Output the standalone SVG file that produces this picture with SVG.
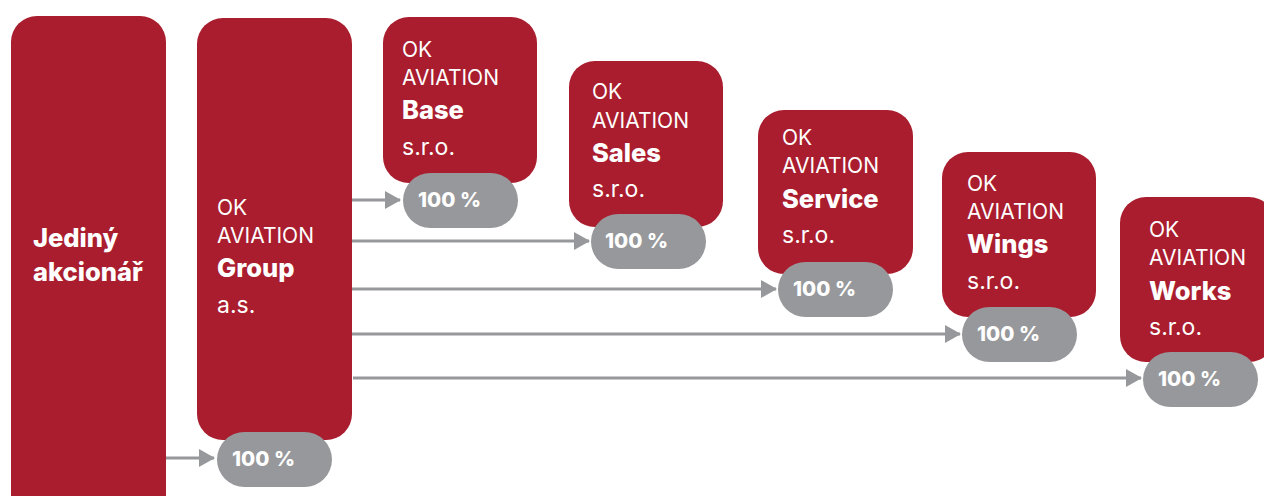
<svg xmlns="http://www.w3.org/2000/svg" width="1264" height="496" viewBox="0 0 1264 496">
<defs>
<style>
.box{fill:#A91D2E}
.pill{fill:#97989B}
.t{font-family:Inter,"Open Sans",sans-serif;fill:#fff;font-size:21px;font-weight:400}
.s{font-family:Inter,"Open Sans",sans-serif;fill:#fff;font-size:23px;font-weight:400}
.b{font-family:Inter,"Open Sans",sans-serif;fill:#fff;font-size:25.5px;font-weight:800}
.p{font-family:Inter,"Open Sans",sans-serif;fill:#fff;font-size:20.5px;font-weight:800}
.c{stroke:#97989B;stroke-width:3;fill:none}
</style>
<marker id="ah" markerWidth="16" markerHeight="18" refX="15" refY="9" orient="auto" markerUnits="userSpaceOnUse">
<path d="M0,0 L16,9 L0,18 Z" fill="#97989B"/>
</marker>
</defs>
<rect width="1264" height="496" fill="#fff"/>
<g id="connectors">
<line class="c" x1="166" y1="458" x2="214" y2="458" marker-end="url(#ah)"/>
<line class="c" x1="352" y1="200" x2="400" y2="200" marker-end="url(#ah)"/>
<line class="c" x1="352" y1="241" x2="589" y2="241" marker-end="url(#ah)"/>
<line class="c" x1="352" y1="289" x2="776" y2="289" marker-end="url(#ah)"/>
<line class="c" x1="352" y1="334" x2="960" y2="334" marker-end="url(#ah)"/>
<line class="c" x1="353" y1="378" x2="1141" y2="378" marker-end="url(#ah)"/>
</g>
<g id="shareholder">
<rect class="box" x="11" y="16" width="155" height="510" rx="26"/>
<text class="b" x="33" y="247">Jediný</text>
<text class="b" x="33" y="281">akcionář</text>
</g>
<g id="group">
<rect class="box" x="197" y="18" width="155" height="422" rx="26"/>
<text class="t" x="217" y="215">OK</text>
<text class="t" x="217" y="243">AVIATION</text>
<text class="b" x="217" y="277">Group</text>
<text class="s" x="217" y="313">a.s.</text>
<rect class="pill" x="217" y="432" width="115" height="55" rx="27.5"/>
<text class="p" x="232" y="466">100 %</text>
</g>
<g id="base">
<rect class="box" x="383" y="17" width="154" height="166" rx="26"/>
<text class="t" x="402" y="57">OK</text>
<text class="t" x="402" y="85">AVIATION</text>
<text class="b" x="402" y="119">Base</text>
<text class="s" x="402" y="155">s.r.o.</text>
<rect class="pill" x="403" y="173" width="115" height="55" rx="27.5"/>
<text class="p" x="418" y="207">100 %</text>
</g>
<g id="sales">
<rect class="box" x="569" y="61" width="154" height="166" rx="26"/>
<text class="t" x="592" y="99">OK</text>
<text class="t" x="592" y="128">AVIATION</text>
<text class="b" x="592" y="162">Sales</text>
<text class="s" x="592" y="197">s.r.o.</text>
<rect class="pill" x="591" y="214" width="115" height="55" rx="27.5"/>
<text class="p" x="605" y="248">100 %</text>
</g>
<g id="service">
<rect class="box" x="758" y="110" width="155" height="164" rx="26"/>
<text class="t" x="782" y="145">OK</text>
<text class="t" x="782" y="173">AVIATION</text>
<text class="b" x="782" y="208">Service</text>
<text class="s" x="782" y="243">s.r.o.</text>
<rect class="pill" x="778" y="262" width="115" height="55" rx="27.5"/>
<text class="p" x="793" y="296">100 %</text>
</g>
<g id="wings">
<rect class="box" x="942" y="152" width="154" height="165" rx="26"/>
<text class="t" x="967" y="191">OK</text>
<text class="t" x="967" y="219">AVIATION</text>
<text class="b" x="967" y="253">Wings</text>
<text class="s" x="967" y="289">s.r.o.</text>
<rect class="pill" x="962" y="307" width="115" height="55" rx="27.5"/>
<text class="p" x="977" y="341">100 %</text>
</g>
<g id="works">
<rect class="box" x="1120" y="197" width="155" height="165" rx="26"/>
<text class="t" x="1149" y="237">OK</text>
<text class="t" x="1149" y="265">AVIATION</text>
<text class="b" x="1149" y="300">Works</text>
<text class="s" x="1149" y="335">s.r.o.</text>
<rect class="pill" x="1143" y="352" width="115" height="55" rx="27.5"/>
<text class="p" x="1158" y="386">100 %</text>
</g>
</svg>
